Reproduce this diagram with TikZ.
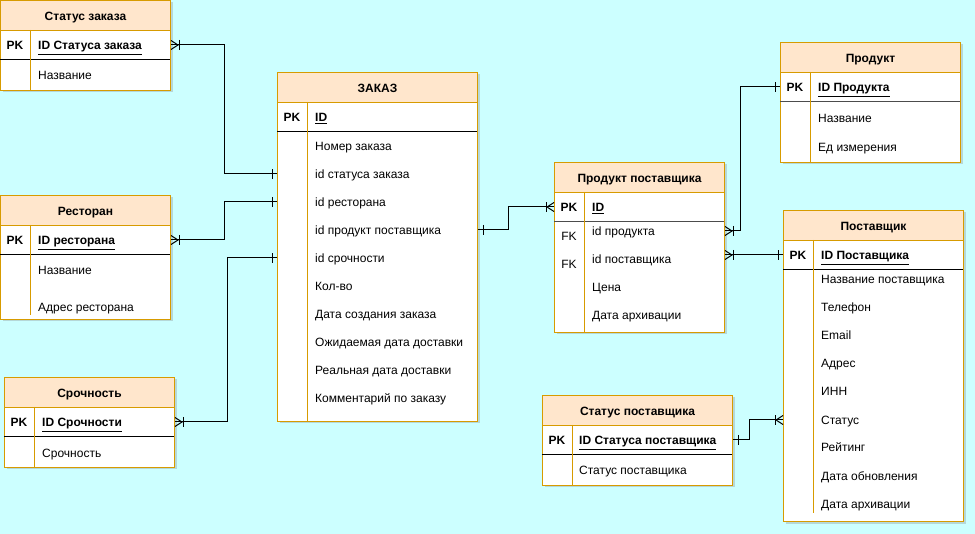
\documentclass[tikz,border=0pt]{standalone}
\usepackage{fontspec}
\setmainfont{Liberation Sans}
\usetikzlibrary{shadows}
\definecolor{bgcyan}{RGB}{204,255,255}
\definecolor{tblline}{RGB}{215,155,0}
\definecolor{tblhead}{RGB}{255,230,204}
\begin{document}
\begin{tikzpicture}[x=1pt, y=-1pt, font=\fontsize{12}{14}\selectfont,
  tbl/.style={draw=tblline, fill=white, anchor=north west, inner sep=0pt, line width=1pt,
              drop shadow={shadow xshift=2pt, shadow yshift=-2pt, opacity=0.3}},
  hdr/.style={draw=tblline, fill=tblhead, anchor=north west, minimum height=30pt, inner sep=0pt,
              line width=1pt, text height=10pt, text depth=0pt, font=\fontsize{12}{14}\selectfont\bfseries},
  attr/.style={anchor=west, inner sep=0pt, text height=10pt, text depth=0pt},
  pkey/.style={attr, font=\fontsize{12}{14}\selectfont\bfseries},
  key/.style={inner sep=0pt, text height=10pt, text depth=0pt, font=\fontsize{12}{14}\selectfont\bfseries},
  fkey/.style={inner sep=0pt, text height=10pt, text depth=0pt},
  rowline/.style={line width=1pt},
  colline/.style={draw=tblline, line width=1pt},
  link/.style={line width=1pt},
  many/.pic={\draw[line width=1pt] (0,-4.5) -- (7,0) -- (0,4.5);
             \draw[line width=1pt] (8,-5) -- (8,5);},
  one/.pic={\draw[line width=1pt] (5,-5) -- (5,5);}]
\useasboundingbox (0,0) rectangle (975,534);
\fill[bgcyan] (0,0) rectangle (975,534);

% Статус заказа
\node[tbl, minimum width=170pt, minimum height=90pt] (sz) at (0,0) {};
\node[hdr, minimum width=170pt] (szh) at (0,0) {Статус заказа};
\draw[rowline] (0,60) -- (170,60);
\draw[colline] (30,30) -- (30,90);
\node[key] (szk) at (15,45) {PK};
\node[pkey] (szid) at (38,45) {\underline{ID Статуса заказа}};
\node[attr] (szname) at (38,75) {Название};

% Ресторан
\node[tbl, minimum width=170pt, minimum height=124pt] (r) at (0,195) {};
\node[hdr, minimum width=170pt] (rh) at (0,195) {Ресторан};
\draw[rowline] (0,255) -- (170,255);
\draw[colline] (30,225) -- (30,315);
\node[key] (rk) at (15,240) {PK};
\node[pkey] (rid) at (38,240) {\underline{ID ресторана}};
\node[attr] (rname) at (38,270) {Название};
\node[attr] (raddr) at (38,307) {Адрес ресторана};

% Срочность
\node[tbl, minimum width=170pt, minimum height=90pt] (u) at (4,377) {};
\node[hdr, minimum width=170pt] (uh) at (4,377) {Срочность};
\draw[rowline] (4,437) -- (174,437);
\draw[colline] (34,407) -- (34,467);
\node[key] (uk) at (19,422) {PK};
\node[pkey] (uid) at (42,422) {\underline{ID Срочности}};
\node[attr] (uname) at (42,452) {Срочность};

% ЗАКАЗ
\node[tbl, minimum width=200pt, minimum height=349pt] (z) at (277,72) {};
\node[hdr, minimum width=200pt] (zh) at (277,72) {ЗАКАЗ};
\draw[rowline] (277,132) -- (477,132);
\draw[colline] (307,102) -- (307,421);
\node[key] (zk) at (292,117) {PK};
\node[pkey] (zid) at (315,117) {\underline{ID}};
\node[attr] (znum) at (315,146) {Номер заказа};
\node[attr] (zstat) at (315,174) {id статуса заказа};
\node[attr] (zrest) at (315,202) {id ресторана};
\node[attr] (zprod) at (315,230) {id продукт поставщика};
\node[attr] (zurg) at (315,258) {id срочности};
\node[attr] (zqty) at (315,286) {Кол-во};
\node[attr] (zcreat) at (315,314) {Дата создания заказа};
\node[attr] (zplan) at (315,342) {Ожидаемая дата доставки};
\node[attr] (zreal) at (315,370) {Реальная дата доставки};
\node[attr] (zcomm) at (315,398) {Комментарий по заказу};

% Продукт поставщика
\node[tbl, minimum width=170pt, minimum height=170pt] (pp) at (554,162) {};
\node[hdr, minimum width=170pt] (pph) at (554,162) {Продукт поставщика};
\draw[rowline, black!70] (554,222) -- (724,222);
\draw[colline] (584,192) -- (584,332);
\node[key] (ppk) at (569,207) {PK};
\node[pkey] (ppid) at (592,207) {\underline{ID}};
\node[fkey] (ppfk1) at (569,236) {FK};
\node[fkey] (ppfk2) at (569,264) {FK};
\node[attr] (ppprod) at (592,231) {id продукта};
\node[attr] (ppsup) at (592,259) {id поставщика};
\node[attr] (ppprice) at (592,287) {Цена};
\node[attr] (pparch) at (592,315) {Дата архивации};

% Продукт
\node[tbl, minimum width=180pt, minimum height=120pt] (p) at (780,42) {};
\node[hdr, minimum width=180pt] (ph) at (780,42) {Продукт};
\draw[rowline, black!70] (780,102) -- (960,102);
\draw[colline] (810,72) -- (810,162);
\node[key] (pk) at (795,87) {PK};
\node[pkey] (pid) at (818,87) {\underline{ID Продукта}};
\node[attr] (pname) at (818,118) {Название};
\node[attr] (punit) at (818,147) {Ед измерения};

% Поставщик
\node[tbl, minimum width=180pt, minimum height=311pt] (s) at (783,210) {};
\node[hdr, minimum width=180pt] (sh) at (783,210) {Поставщик};
\draw[rowline] (783,270) -- (963,270);
\draw[colline] (813,240) -- (813,513);
\node[key] (sk) at (798,255) {PK};
\node[pkey] (sid) at (821,255) {\underline{ID Поставщика}};
\node[attr] (sname) at (821,279) {Название поставщика};
\node[attr] (sphone) at (821,307) {Телефон};
\node[attr] (smail) at (821,335) {Email};
\node[attr] (saddr) at (821,363) {Адрес};
\node[attr] (sinn) at (821,391) {ИНН};
\node[attr] (sstat) at (821,420) {Статус};
\node[attr] (srate) at (821,447) {Рейтинг};
\node[attr] (supd) at (821,475) {Дата обновления};
\node[attr] (sarch) at (821,503) {Дата архивации};

% Статус поставщика
\node[tbl, minimum width=190pt, minimum height=90pt] (sp) at (542,395) {};
\node[hdr, minimum width=190pt] (sph) at (542,395) {Статус поставщика};
\draw[rowline] (542,455) -- (732,455);
\draw[colline] (572,425) -- (572,485);
\node[key] (spk) at (557,440) {PK};
\node[pkey] (spid) at (579,440) {\underline{ID Статуса поставщика}};
\node[attr] (spname) at (579,470) {Статус поставщика};

% связи
\draw[link] (szid -| sz.east) -- ++(53,0) |- (zstat -| z.west);
\pic at (szid -| sz.east) {many};
\pic[rotate=180] at (zstat -| z.west) {one};

\draw[link] (rid -| r.east) -- ++(53,0) |- (zrest -| z.west);
\pic at (rid -| r.east) {many};
\pic[rotate=180] at (zrest -| z.west) {one};

\draw[link] (uid -| u.east) -- ++(52,0) |- (zurg -| z.west);
\pic at (uid -| u.east) {many};
\pic[rotate=180] at (zurg -| z.west) {one};

\draw[link] (zprod -| z.east) -- ++(30,0) |- (ppid -| pp.west);
\pic at (zprod -| z.east) {one};
\pic[rotate=180] at (ppid -| pp.west) {many};

\draw[link] (ppprod -| pp.east) -- ++(15,0) |- (pid -| p.west);
\pic at (ppprod -| pp.east) {many};
\pic[rotate=180] at (pid -| p.west) {one};

\draw[link] (sid -| pp.east) -- (sid -| s.west);
\pic at (sid -| pp.east) {many};
\pic[rotate=180] at (sid -| s.west) {one};

\draw[link] (spid -| sp.east) -- ++(16,0) |- (sstat -| s.west);
\pic at (spid -| sp.east) {one};
\pic[rotate=180] at (sstat -| s.west) {many};
\end{tikzpicture}
\end{document}
